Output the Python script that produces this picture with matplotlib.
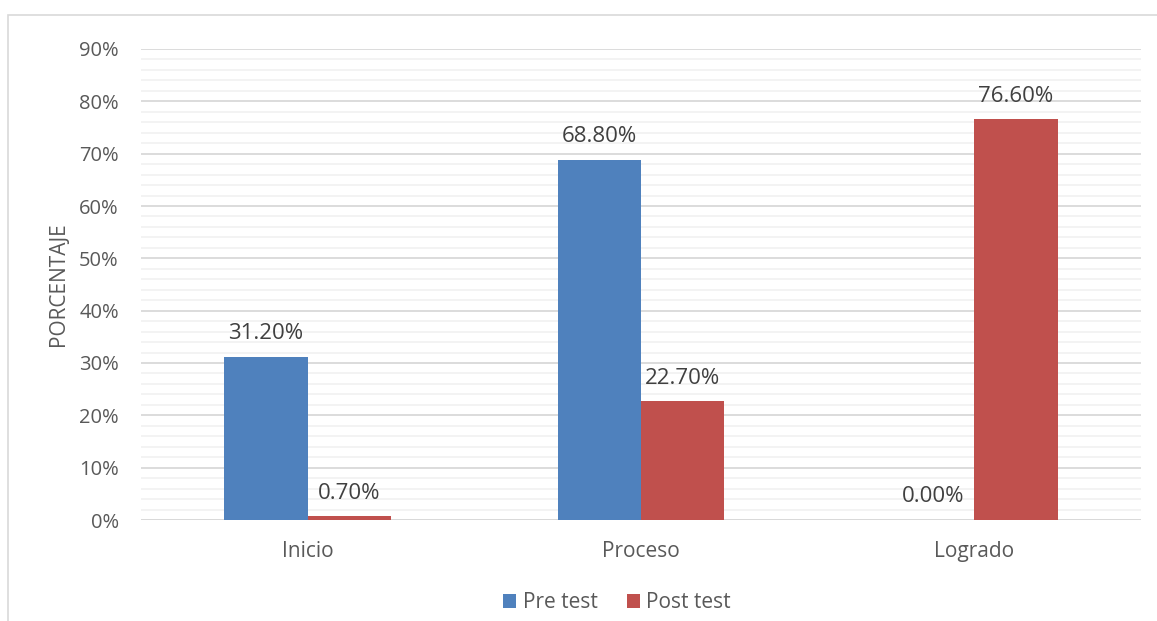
import numpy as np
import matplotlib.pyplot as plt
from matplotlib.patches import Rectangle
from matplotlib.ticker import MultipleLocator, PercentFormatter

plt.rcParams['font.family'] = ['Open Sans', 'DejaVu Sans']

categorias = ['Inicio', 'Proceso', 'Logrado']
pre_test = [31.2, 68.8, 0.0]
post_test = [0.7, 22.7, 76.6]

W, H = 1157, 621
fig = plt.figure(figsize=(W / 100, H / 100), dpi=100)
ax = fig.add_axes([141 / W, 1 - 520 / H, 1000 / W, (520 - 49) / H])

# outer chart frame (cut off on the right and bottom)
fig.patches.append(Rectangle((8 / W, -0.1), 1.2, 1 - 15 / H + 0.1,
                             transform=fig.transFigure, fill=False,
                             edgecolor='#d9d9d9', linewidth=1.2))

x = np.arange(len(categorias))
ancho = 0.25
azul = '#4f81bd'
rojo = '#c0504d'
gris = '#595959'

b1 = ax.bar(x - ancho / 2, pre_test, ancho, color=azul, label='Pre test', zorder=3)
b2 = ax.bar(x + ancho / 2, post_test, ancho, color=rojo, label='Post test', zorder=3)

for barras, vals in ((b1, pre_test), (b2, post_test)):
    for b, v in zip(barras, vals):
        ax.annotate(f'{v:.2f}%', (b.get_x() + b.get_width() / 2, v),
                    xytext=(0, 9), textcoords='offset points',
                    ha='center', va='bottom', fontsize=16, color='#404040')

ax.set_xlim(-0.5, 2.5)
ax.set_ylim(0, 90)
ax.yaxis.set_major_locator(MultipleLocator(10))
ax.yaxis.set_minor_locator(MultipleLocator(2))
ax.yaxis.set_major_formatter(PercentFormatter(decimals=0))
ax.grid(which='major', axis='y', color='#d9d9d9', linewidth=1.3, zorder=0)
ax.grid(which='minor', axis='y', color='#f2f2f2', linewidth=1.3, zorder=0)
ax.set_xticks(x, categorias)
ax.tick_params(axis='both', which='both', length=0, colors=gris)
ax.tick_params(axis='y', pad=16, labelsize=14.5)
ax.tick_params(axis='x', pad=15, labelsize=15)
for s in ax.spines.values():
    s.set_visible(False)
ax.axhline(0, color='#d9d9d9', linewidth=1.3, zorder=2)

ax.set_ylabel('PORCENTAJE', fontsize=15, color=gris)
ax.yaxis.set_label_coords(-72 / 1000, 0.5)

fig.legend(loc='center', bbox_to_anchor=(617 / W, 1 - 603 / H), ncol=2,
           frameon=False, fontsize=15, labelcolor=gris, handlelength=0.65,
           handleheight=0.65, handletextpad=0.3, columnspacing=1.4)

fig.savefig('out.png', dpi=100)
